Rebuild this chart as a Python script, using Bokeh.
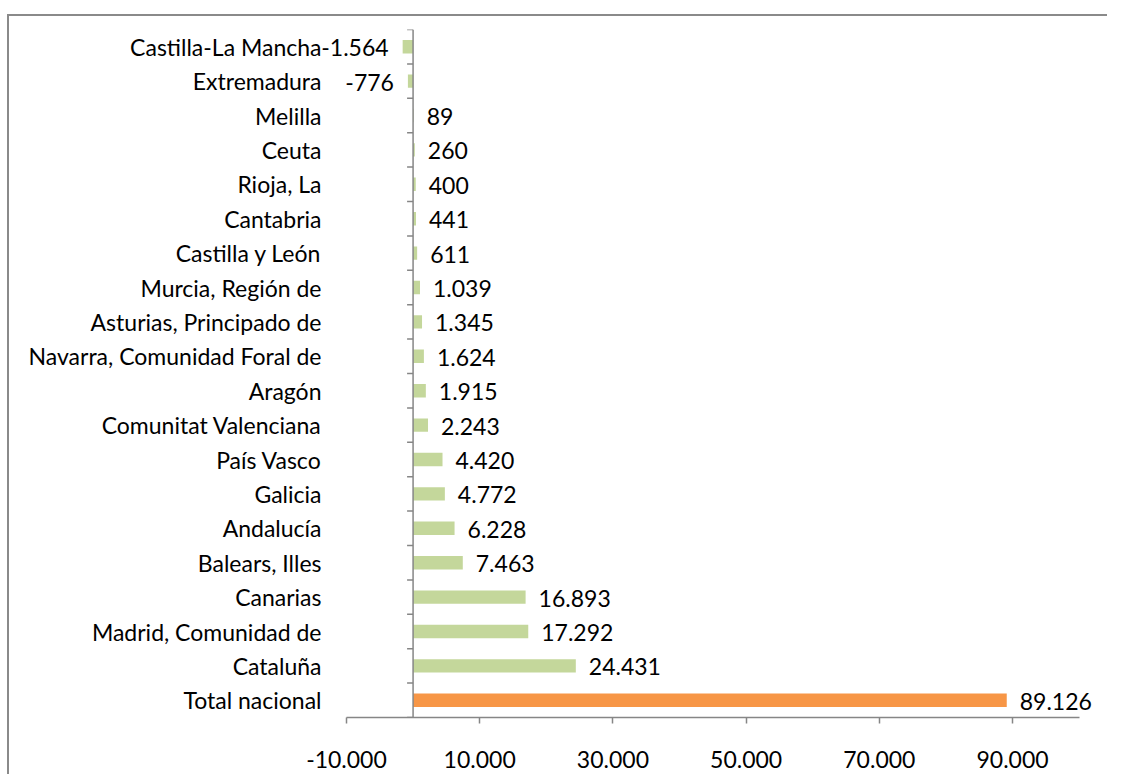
import math
from bokeh.plotting import figure
from bokeh.models import Range1d, Span, FixedTicker, ColumnDataSource, LabelSet
from bokeh.core.properties import value
from bokeh.embed import file_html
from bokeh.resources import INLINE

# Data (top to bottom as in the chart)
regions = [
    "Castilla-La Mancha", "Extremadura", "Melilla", "Ceuta", "Rioja, La",
    "Cantabria", "Castilla y León", "Murcia, Región de", "Asturias, Principado de",
    "Navarra, Comunidad Foral de", "Aragón", "Comunitat Valenciana", "País Vasco",
    "Galicia", "Andalucía", "Balears, Illes", "Canarias", "Madrid, Comunidad de",
    "Cataluña", "Total nacional",
]
values = [
    -1564, -776, 89, 260, 400,
    441, 611, 1039, 1345,
    1624, 1915, 2243, 4420,
    4772, 6228, 7463, 16893, 17292,
    24431, 89126,
]
x_ticks = [-10000, 10000, 30000, 50000, 70000, 90000]
x_min, x_max = -10000, 100000

FONT = "Lato"
FSIZE = "23px"
AXIS_COLOR = "#868686"


def fmt(v):
    return f"{v:,}".replace(",", ".")


n = len(regions)
ypos = [n - 1 - i for i in range(n)]
colors = ["#F79646" if r == "Total nacional" else "#C4D79B" for r in regions]

# plot frame is wider than the axis so that value labels are not clipped
p = figure(width=1100, height=760, output_backend="svg", toolbar_location=None,
           x_range=Range1d(-16000, 103500), y_range=Range1d(-0.5, n - 0.5),
           min_border_left=297, min_border_top=13, min_border_right=7,
           min_border_bottom=59)
p.outline_line_color = None
p.grid.visible = False
p.background_fill_color = "white"
p.border_fill_color = "white"
p.styles = {"margin-top": "14px", "margin-left": "7px",
            "border-top": "2px solid #8a8a8a", "border-left": "2px solid #8a8a8a"}

# y axis (category labels)
p.yaxis.ticker = FixedTicker(ticks=ypos)
p.yaxis.major_label_overrides = {y: r for y, r in zip(ypos, regions)}
p.yaxis.axis_line_color = None
p.yaxis.major_tick_line_color = None
p.yaxis.minor_tick_line_color = None
p.yaxis.major_tick_out = 0
p.yaxis.major_tick_in = 0
p.yaxis.major_label_standoff = -15
p.yaxis.major_label_text_font = FONT
p.yaxis.major_label_text_font_size = FSIZE
p.yaxis.major_label_text_color = "black"

# x axis
p.xaxis.bounds = (x_min, x_max)
p.xaxis.ticker = FixedTicker(ticks=x_ticks)
p.xaxis.major_label_overrides = {t: fmt(t) for t in x_ticks}
p.xaxis.axis_line_color = AXIS_COLOR
p.xaxis.axis_line_width = 1.5
p.xaxis.major_tick_line_color = AXIS_COLOR
p.xaxis.major_tick_line_width = 1.5
p.xaxis.minor_tick_line_color = None
p.xaxis.major_tick_out = 6
p.xaxis.major_tick_in = 0
p.xaxis.major_label_standoff = 27
p.xaxis.major_label_text_font = FONT
p.xaxis.major_label_text_font_size = FSIZE
p.xaxis.major_label_text_color = "black"

# vertical axis line at zero with tick marks between categories
p.add_layout(Span(location=0, dimension="height", line_color=AXIS_COLOR, line_width=1.5))
bounds = [k - 0.5 for k in range(n + 1)]
p.ray(x=[0] * len(bounds), y=bounds, length=6, length_units="screen", angle=math.pi,
      line_color=AXIS_COLOR, line_width=1.5)

# bars
p.hbar(y=ypos, left=0, right=values, height=0.39, fill_color=colors, line_color=None)

# value labels
src = ColumnDataSource(dict(
    x=values, y=ypos, text=[fmt(v) for v in values],
    align=["left" if v >= 0 else "right" for v in values],
    xoff=[13 if v >= 0 else -14 for v in values],
))
labels = LabelSet(x="x", y="y", text="text", source=src, text_align="align",
                  x_offset="xoff", y_offset=-1, text_baseline="middle",
                  text_font=value(FONT), text_font_size=value(FSIZE),
                  text_color="black")
p.add_layout(labels)

open("out.html", "w").write(file_html(p, INLINE))
